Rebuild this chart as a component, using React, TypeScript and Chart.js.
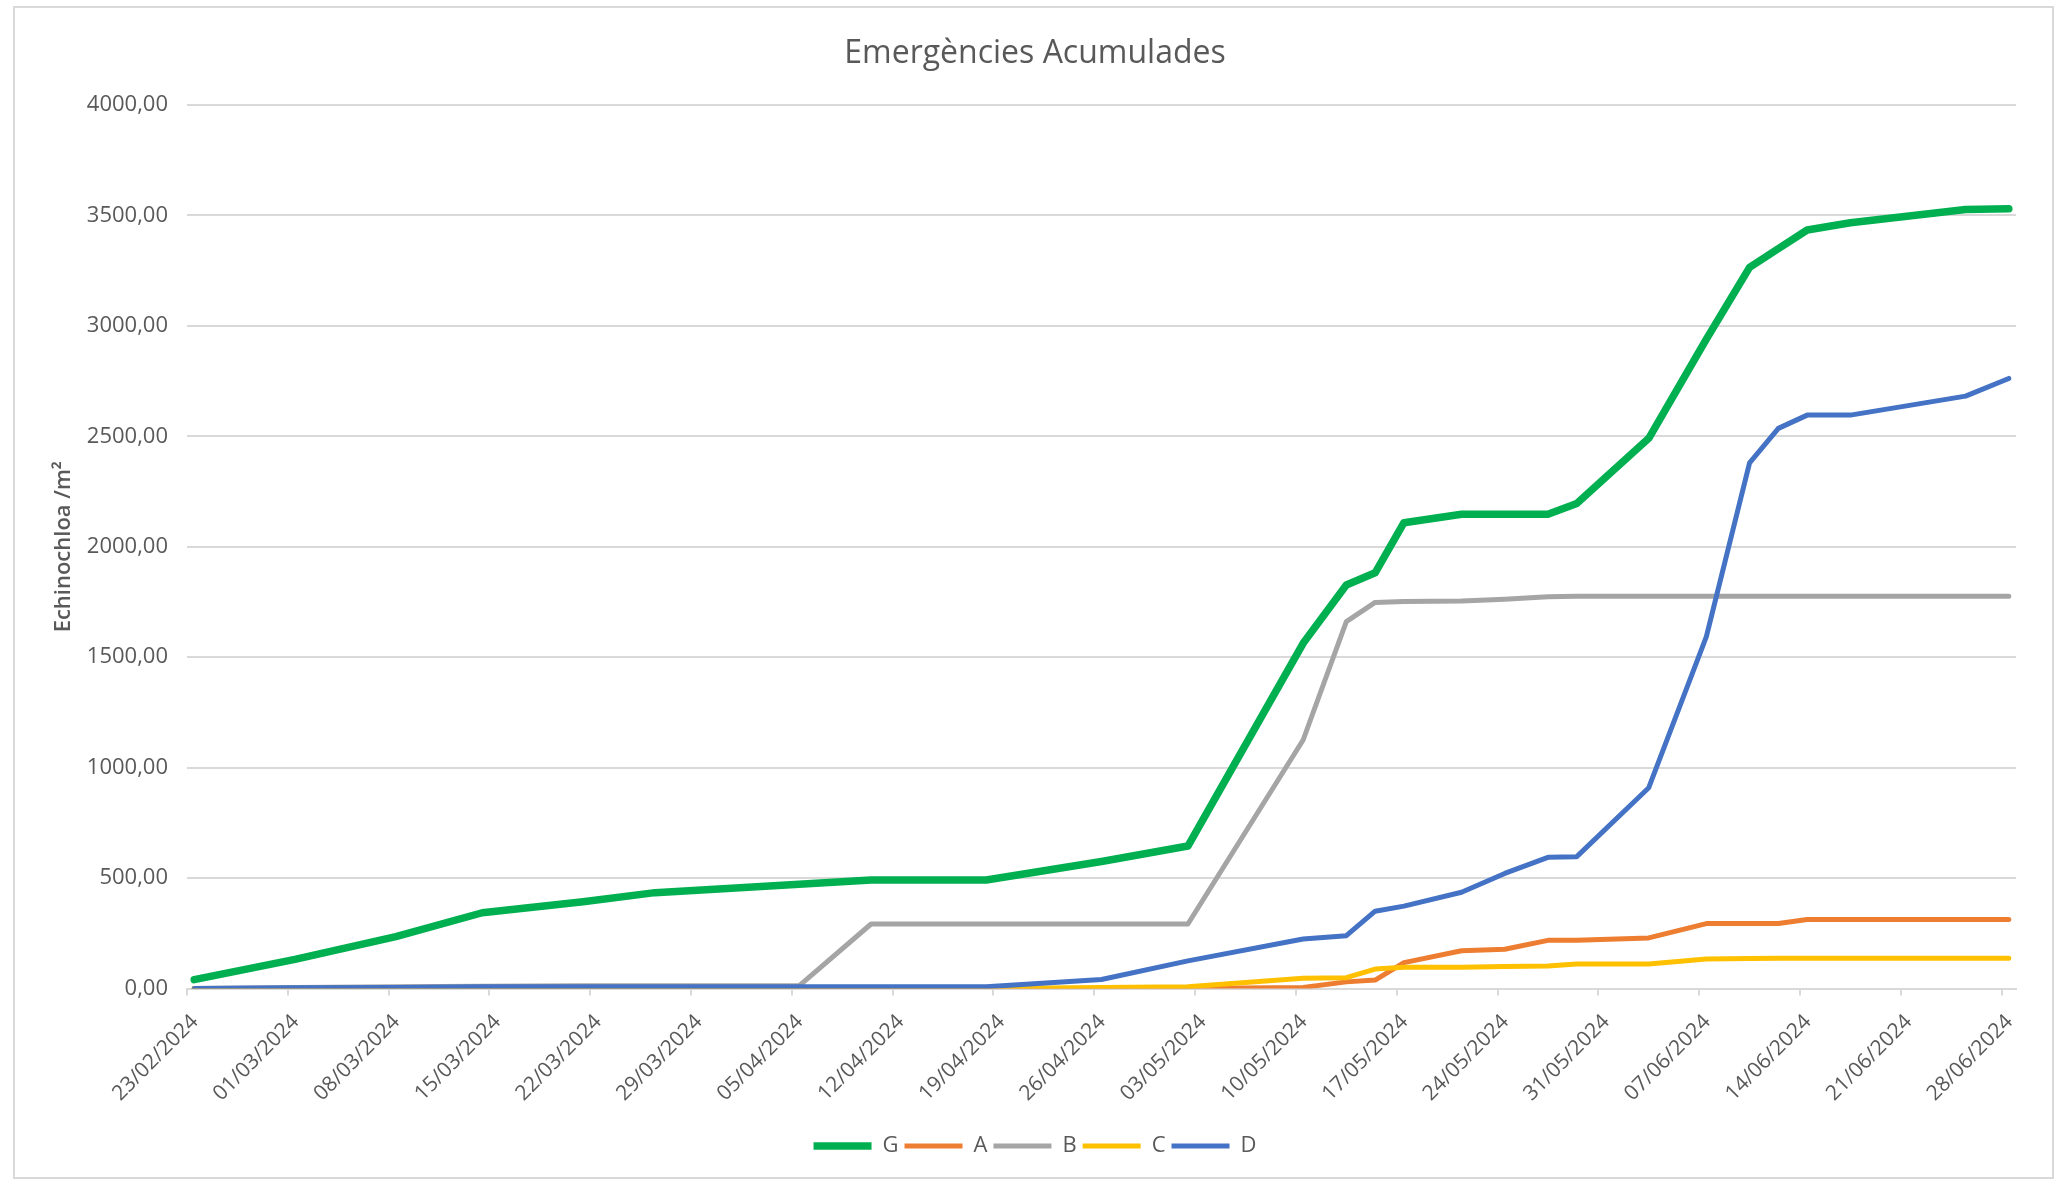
import { useEffect, useRef } from "react";
import { Chart, registerables } from "chart.js";

Chart.register(...registerables);

// Sampling dates shared by every series
const sampleDates = [
  "23/02/2024", "01/03/2024", "08/03/2024", "14/03/2024", "21/03/2024", "26/03/2024",
  "05/04/2024", "10/04/2024", "18/04/2024", "26/04/2024", "02/05/2024", "10/05/2024",
  "13/05/2024", "15/05/2024", "17/05/2024", "21/05/2024", "24/05/2024", "27/05/2024",
  "29/05/2024", "03/06/2024", "07/06/2024", "10/06/2024", "12/06/2024", "14/06/2024",
  "17/06/2024", "25/06/2024", "28/06/2024",
];

// Accumulated emergences (plants / m²)
const seriesG = [40, 132, 235, 343, 393, 434, 472, 491, 491, 575, 645, 1563, 1827, 1882, 2109, 2147, 2147, 2147, 2196, 2491, 2940, 3265, 3350, 3434, 3467, 3527, 3530];
const seriesA = [0, 0, 0, 0, 0, 0, 0, 0, 0, 0, 0, 5, 30, 38, 117, 171, 178, 218, 218, 229, 294, 294, 294, 312, 312, 312, 312];
const seriesB = [0, 4, 8, 10, 12, 12, 12, 292, 292, 292, 292, 1125, 1661, 1748, 1752, 1754, 1762, 1774, 1776, 1776, 1776, 1776, 1776, 1776, 1776, 1776, 1776];
const seriesC = [0, 0, 0, 0, 0, 0, 0, 0, 0, 5, 8, 46, 49, 88, 96, 96, 100, 102, 111, 111, 134, 136, 137, 137, 137, 137, 137];
const seriesD = [0, 3, 5, 8, 8, 8, 8, 8, 8, 41, 125, 224, 239, 350, 373, 436, 521, 594, 597, 909, 1593, 2380, 2536, 2596, 2596, 2682, 2762];

const seriesNames = ["G", "A", "B", "C", "D"];
const seriesColors = ["#00B050", "#ED7D31", "#A5A5A5", "#FFC000", "#4472C4"];

// Weekly date-axis labels
const tickDates = [
  "23/02/2024", "01/03/2024", "08/03/2024", "15/03/2024", "22/03/2024", "29/03/2024",
  "05/04/2024", "12/04/2024", "19/04/2024", "26/04/2024", "03/05/2024", "10/05/2024",
  "17/05/2024", "24/05/2024", "31/05/2024", "07/06/2024", "14/06/2024", "21/06/2024",
  "28/06/2024",
];

const yTicks = { min: 0, max: 4000, step: 500 };

const DAY_MS = 86400000;
const parseDate = (s: string) => {
  const [d, m, y] = s.split("/").map(Number);
  return Date.UTC(y, m - 1, d);
};
const origin = parseDate(tickDates[0]);
const dayIndex = (s: string) => Math.round((parseDate(s) - origin) / DAY_MS);
const pad2 = (n: number) => String(n).padStart(2, "0");
const formatDay = (v: number) => {
  const dt = new Date(origin + Math.round(v) * DAY_MS);
  return `${pad2(dt.getUTCDate())}/${pad2(dt.getUTCMonth() + 1)}/${dt.getUTCFullYear()}`;
};
// each value sits in the middle of its day slot on the date axis
const toPoints = (vals: number[]) =>
  vals.map((y, i) => ({ x: dayIndex(sampleDates[i]) + 0.5, y }));

const TEXT = "#595959";
const GRID = "#D9D9D9";
const FONT = "'Open Sans', 'DejaVu Sans', sans-serif";

export default function App() {
  const canvasRef = useRef<HTMLCanvasElement | null>(null);

  useEffect(() => {
    document.body.style.margin = "0";
    document.body.style.overflow = "hidden";
    const canvas = canvasRef.current;
    if (!canvas) return;

    const allSeries = [seriesG, seriesA, seriesB, seriesC, seriesD];
    const lastDay = dayIndex(tickDates[tickDates.length - 1]) + 1;

    const chart = new Chart(canvas, {
      type: "line",
      data: {
        datasets: allSeries.map((vals, i) => ({
          label: seriesNames[i],
          data: toPoints(vals),
          borderColor: seriesColors[i],
          backgroundColor: seriesColors[i],
          borderWidth: i === 0 ? 7.5 : 5,
          borderCapStyle: "round" as const,
          borderJoinStyle: "round" as const,
          pointRadius: 0,
          pointHoverRadius: 0,
          tension: 0,
          order: allSeries.length - 1 - i,
        })),
      },
      options: {
        animation: false,
        responsive: false,
        parsing: false as any,
        layout: { padding: { left: 54, right: 40, top: 0, bottom: 16 } },
        plugins: {
          title: {
            display: true,
            text: "Emergències Acumulades",
            color: TEXT,
            font: { family: FONT, size: 32, weight: "normal" as const, lineHeight: 1.2 },
            padding: { top: 35, bottom: 31.6 },
          },
          legend: {
            position: "bottom",
            labels: {
              color: TEXT,
              font: { family: FONT, size: 22 },
              usePointStyle: true,
              pointStyle: "line",
              pointStyleWidth: 58,
              padding: 6,
              sort: (a: any, b: any) => a.datasetIndex - b.datasetIndex,
            },
          },
          tooltip: { enabled: false },
        },
        scales: {
          x: {
            type: "linear",
            min: 0,
            max: lastDay,
            afterBuildTicks: (scale: any) => {
              scale.ticks = tickDates.map((s) => ({ value: dayIndex(s) }));
            },
            afterFit: (scale: any) => {
              scale.height = 140.5;
            },
            ticks: {
              autoSkip: false,
              minRotation: 45,
              maxRotation: 45,
              color: TEXT,
              font: { family: FONT, size: 21 },
              padding: 14,
              labelOffset: 8,
              callback: (v: any) => formatDay(Number(v)),
            },
            grid: {
              drawOnChartArea: false,
              drawTicks: true,
              tickLength: 7,
              color: GRID,
              lineWidth: 2,
            },
            border: { display: true, color: GRID, width: 2 },
          },
          y: {
            min: yTicks.min,
            max: yTicks.max,
            afterFit: (scale: any) => {
              scale.width = 133;
            },
            ticks: {
              stepSize: yTicks.step,
              color: TEXT,
              font: { family: FONT, size: 22 },
              padding: 19,
              callback: (v: any) => Number(v).toFixed(2).replace(".", ","),
            },
            grid: { color: GRID, lineWidth: 2, drawTicks: false },
            border: { display: false },
            title: {
              display: true,
              text: "Echinochloa /m²",
              color: TEXT,
              font: { family: FONT, size: 22, weight: 600 as any },
              padding: { top: -3.2, bottom: 0 },
            },
          },
        },
      },
    });

    return () => chart.destroy();
  }, []);

  return (
    <div style={{ position: "fixed", left: 0, top: 0, width: 2056, height: 1183, background: "#fff" }}>
      <div
        style={{
          position: "absolute",
          left: 13,
          top: 6,
          width: 2041,
          height: 1173,
          border: "2px solid #D9D9D9",
          boxSizing: "border-box",
        }}
      />
      <canvas ref={canvasRef} width={2056} height={1183} style={{ position: "absolute", left: 0, top: 0 }} />
    </div>
  );
}
